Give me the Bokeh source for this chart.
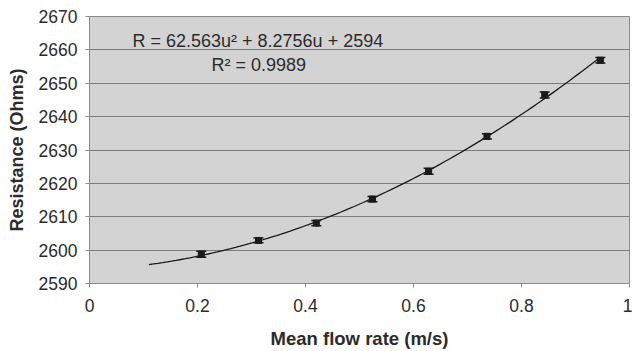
from bokeh.plotting import figure
from bokeh.models import Range1d, Whisker, TeeHead, ColumnDataSource, Label, FixedTicker
from bokeh.embed import file_html
from bokeh.resources import INLINE
import numpy as np

# Data
flow_rate = [0.207, 0.313, 0.420, 0.524, 0.628, 0.736, 0.843, 0.946]
resistance = [2598.8, 2602.9, 2608.1, 2615.3, 2623.6, 2634.1, 2646.5, 2656.9]
error = [0.9, 0.7, 0.8, 0.8, 0.9, 0.8, 0.9, 0.8]

# Trendline (quadratic fit shown on chart)
coef_a = 62.563
coef_b = 8.2756
coef_c = 2594.0
trend_start = 0.11
trend_end = 0.946

x_ticks = [0, 0.2, 0.4, 0.6, 0.8, 1]
y_ticks = [2590, 2600, 2610, 2620, 2630, 2640, 2650, 2660, 2670]

FONT = "Liberation Sans"
TXT = "#2b2b2b"

p = figure(width=632, height=351, output_backend="svg", toolbar_location=None,
           x_range=Range1d(0, 1), y_range=Range1d(2590, 2670))
p.min_border_left = 89
p.min_border_right = 3
p.min_border_top = 16
p.min_border_bottom = 68
p.background_fill_color = "#d3d3d3"
p.border_fill_color = "white"
p.outline_line_color = "#8a8a8a"
p.outline_line_width = 1

p.xgrid.visible = False
p.ygrid.grid_line_color = "#7c7c7c"
p.ygrid.grid_line_width = 1
p.ygrid.ticker = FixedTicker(ticks=y_ticks)

for ax in (p.xaxis[0], p.yaxis[0]):
    ax.axis_line_color = "#8a8a8a"
    ax.major_tick_line_color = "#8a8a8a"
    ax.major_tick_out = 4
    ax.major_tick_in = 0
    ax.minor_tick_line_color = None
    ax.major_label_text_font = FONT
    ax.major_label_text_font_size = "17.5px"
    ax.major_label_text_color = TXT
    ax.axis_label_text_font = FONT
    ax.axis_label_text_font_style = "bold"
    ax.axis_label_text_color = TXT

p.xaxis.axis_label_text_font_size = "18.5px"
p.yaxis.axis_label_text_font_size = "18px"
p.xaxis.ticker = FixedTicker(ticks=x_ticks)
p.yaxis.ticker = FixedTicker(ticks=y_ticks)
p.xaxis.major_label_overrides = {0: "0", 1: "1"}
p.xaxis.axis_label = "Mean flow rate (m/s)"
p.yaxis.axis_label = "Resistance (Ohms)"
p.xaxis.major_label_standoff = 11
p.xaxis.axis_label_standoff = 13
p.yaxis.major_label_standoff = 8
p.yaxis.axis_label_standoff = 9

# trendline
u = np.linspace(trend_start, trend_end, 100)
p.line(u, coef_a * u**2 + coef_b * u + coef_c, line_color="#1a1a1a", line_width=1.3)

# error bars
src = ColumnDataSource(dict(x=flow_rate, y=resistance,
                            lo=[r - e for r, e in zip(resistance, error)],
                            hi=[r + e for r, e in zip(resistance, error)]))
w = Whisker(source=src, base="x", lower="lo", upper="hi",
            line_color="#1a1a1a", line_width=1.5,
            upper_head=TeeHead(size=10, line_color="#1a1a1a", line_width=1.5),
            lower_head=TeeHead(size=10, line_color="#1a1a1a", line_width=1.5))
p.add_layout(w)
p.scatter("x", "y", source=src, marker="square", size=6,
          fill_color="#1a1a1a", line_color="#1a1a1a")

p.add_layout(Label(x=0.0796, y=2662.8, text_baseline="middle",
                   text="R = 62.563u\u00b2 + 8.2756u + 2594",
                   text_font=FONT, text_font_size="18px", text_color=TXT))
p.add_layout(Label(x=0.226, y=2655.4, text_baseline="middle",
                   text="R\u00b2 = 0.9989",
                   text_font=FONT, text_font_size="18px", text_color=TXT))

open("out.html", "w").write(file_html(p, INLINE))
